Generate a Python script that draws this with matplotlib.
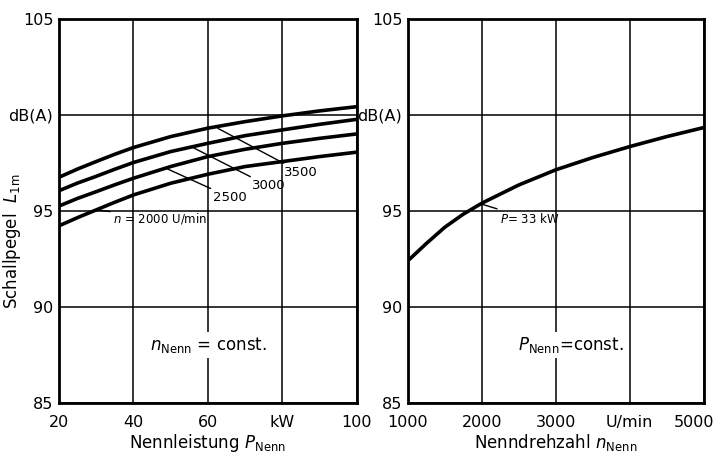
import numpy as np
import matplotlib
matplotlib.use("Agg")
import matplotlib.pyplot as plt
from matplotlib.transforms import ScaledTranslation

plt.rcParams['font.family'] = ['DejaVu Sans']
plt.rcParams['mathtext.fontset'] = 'dejavusans'

# left panel: sound level vs rated power, one curve per rated speed
power_kw = [20, 25, 30, 35, 40, 50, 60, 70, 80, 90, 100]
level_3500 = [96.75, 97.18, 97.57, 97.95, 98.30, 98.87, 99.31, 99.65, 99.95, 100.21, 100.43]
level_3000 = [96.05, 96.45, 96.80, 97.17, 97.52, 98.09, 98.52, 98.92, 99.22, 99.51, 99.77]
level_2500 = [95.25, 95.65, 96.00, 96.36, 96.70, 97.31, 97.83, 98.21, 98.52, 98.78, 99.01]
level_2000 = [94.22, 94.65, 95.05, 95.45, 95.83, 96.44, 96.91, 97.31, 97.57, 97.83, 98.06]

# right panel: sound level vs rated speed at P = 33 kW
speed_rpm = [1000, 1250, 1500, 1750, 2000, 2500, 3000, 3500, 4000, 4500, 5000]
level_33kw = [92.40, 93.30, 94.15, 94.83, 95.40, 96.35, 97.14, 97.78, 98.35, 98.87, 99.34]

y_ticks = [85, 90, 95, 100, 105]
y_labels = ["85", "90", "95", "dB(A)", "105"]
left_ticks = [20, 40, 60, 80, 100]
left_labels = ["20", "40", "60", "kW", "100"]
right_ticks = [1000, 2000, 3000, 4000, 5000]
right_labels = ["1000", "2000", "3000", "U/min", "5000"]

fig = plt.figure(figsize=(7.18, 4.62), dpi=100)
ax1 = fig.add_axes([0.082, 0.128, 0.415, 0.831])
ax2 = fig.add_axes([0.568, 0.128, 0.412, 0.831])


def style(ax, xticks, xlabels, xlim):
    ax.set_xlim(xlim)
    ax.set_ylim(85, 105)
    ax.set_xticks(xticks)
    ax.set_xticklabels(xlabels)
    ax.set_yticks(y_ticks)
    ax.set_yticklabels(y_labels)
    ax.tick_params(length=0, labelsize=11.5)
    ax.tick_params(axis="y", pad=4)
    ax.tick_params(axis="x", pad=9)
    ax.grid(True, color="black", lw=1.1)
    for s in ax.spines.values():
        s.set_linewidth(2)
    ax.set_axisbelow(True)


style(ax1, left_ticks, left_labels, (20, 100))
style(ax2, right_ticks, right_labels, (1000, 5000))

# pull the outermost tick label a bit inside the figure
last = ax2.get_xticklabels()[-1]
last.set_transform(last.get_transform() + ScaledTranslation(-0.1, 0, fig.dpi_scale_trans))

for lv in [level_3500, level_3000, level_2500, level_2000]:
    ax1.plot(power_kw, lv, color="black", lw=2.6, solid_capstyle="butt")
ax2.plot(speed_rpm, level_33kw, color="black", lw=2.6, solid_capstyle="butt")

lead = dict(arrowstyle="-", lw=1, color="black", shrinkA=0, shrinkB=0)
ax1.annotate("3500", xy=(62.7, 99.3), xytext=(80.5, 97.0), fontsize=9.5,
             ha="left", va="center", arrowprops=lead)
ax1.annotate("3000", xy=(55.7, 98.33), xytext=(71.8, 96.3), fontsize=9.5,
             ha="left", va="center", arrowprops=lead)
ax1.annotate("2500", xy=(49.0, 97.2), xytext=(61.5, 95.7), fontsize=9.5,
             ha="left", va="center", arrowprops=lead)
ax1.annotate(r"$n$ = 2000 U/min", xy=(30.5, 95.05), xytext=(34.5, 94.6),
             fontsize=8.5, ha="left", va="center", arrowprops=lead)
ax2.annotate(r"$P$= 33 kW", xy=(2000, 95.35), xytext=(2240, 94.6),
             fontsize=8.5, ha="left", va="center", arrowprops=lead)

box = dict(facecolor="white", edgecolor="none", pad=2)
ax1.text(60, 88.0, r"$n_{\mathrm{Nenn}}$ = const.", fontsize=12,
         ha="center", va="center", bbox=box)
ax2.text(3200, 88.0, r"$P_{\mathrm{Nenn}}$=const.", fontsize=12,
         ha="center", va="center", bbox=box)

ax1.set_xlabel(r"Nennleistung $P_{\mathrm{Nenn}}$", fontsize=12, labelpad=1)
ax2.set_xlabel(r"Nenndrehzahl $n_{\mathrm{Nenn}}$", fontsize=12, labelpad=1)
ax1.set_ylabel(r"Schallpegel  $L_{\mathrm{1m}}$", fontsize=12)
ax1.yaxis.set_label_coords(-0.12, 0.42)

plt.savefig("out.png", dpi=100)
